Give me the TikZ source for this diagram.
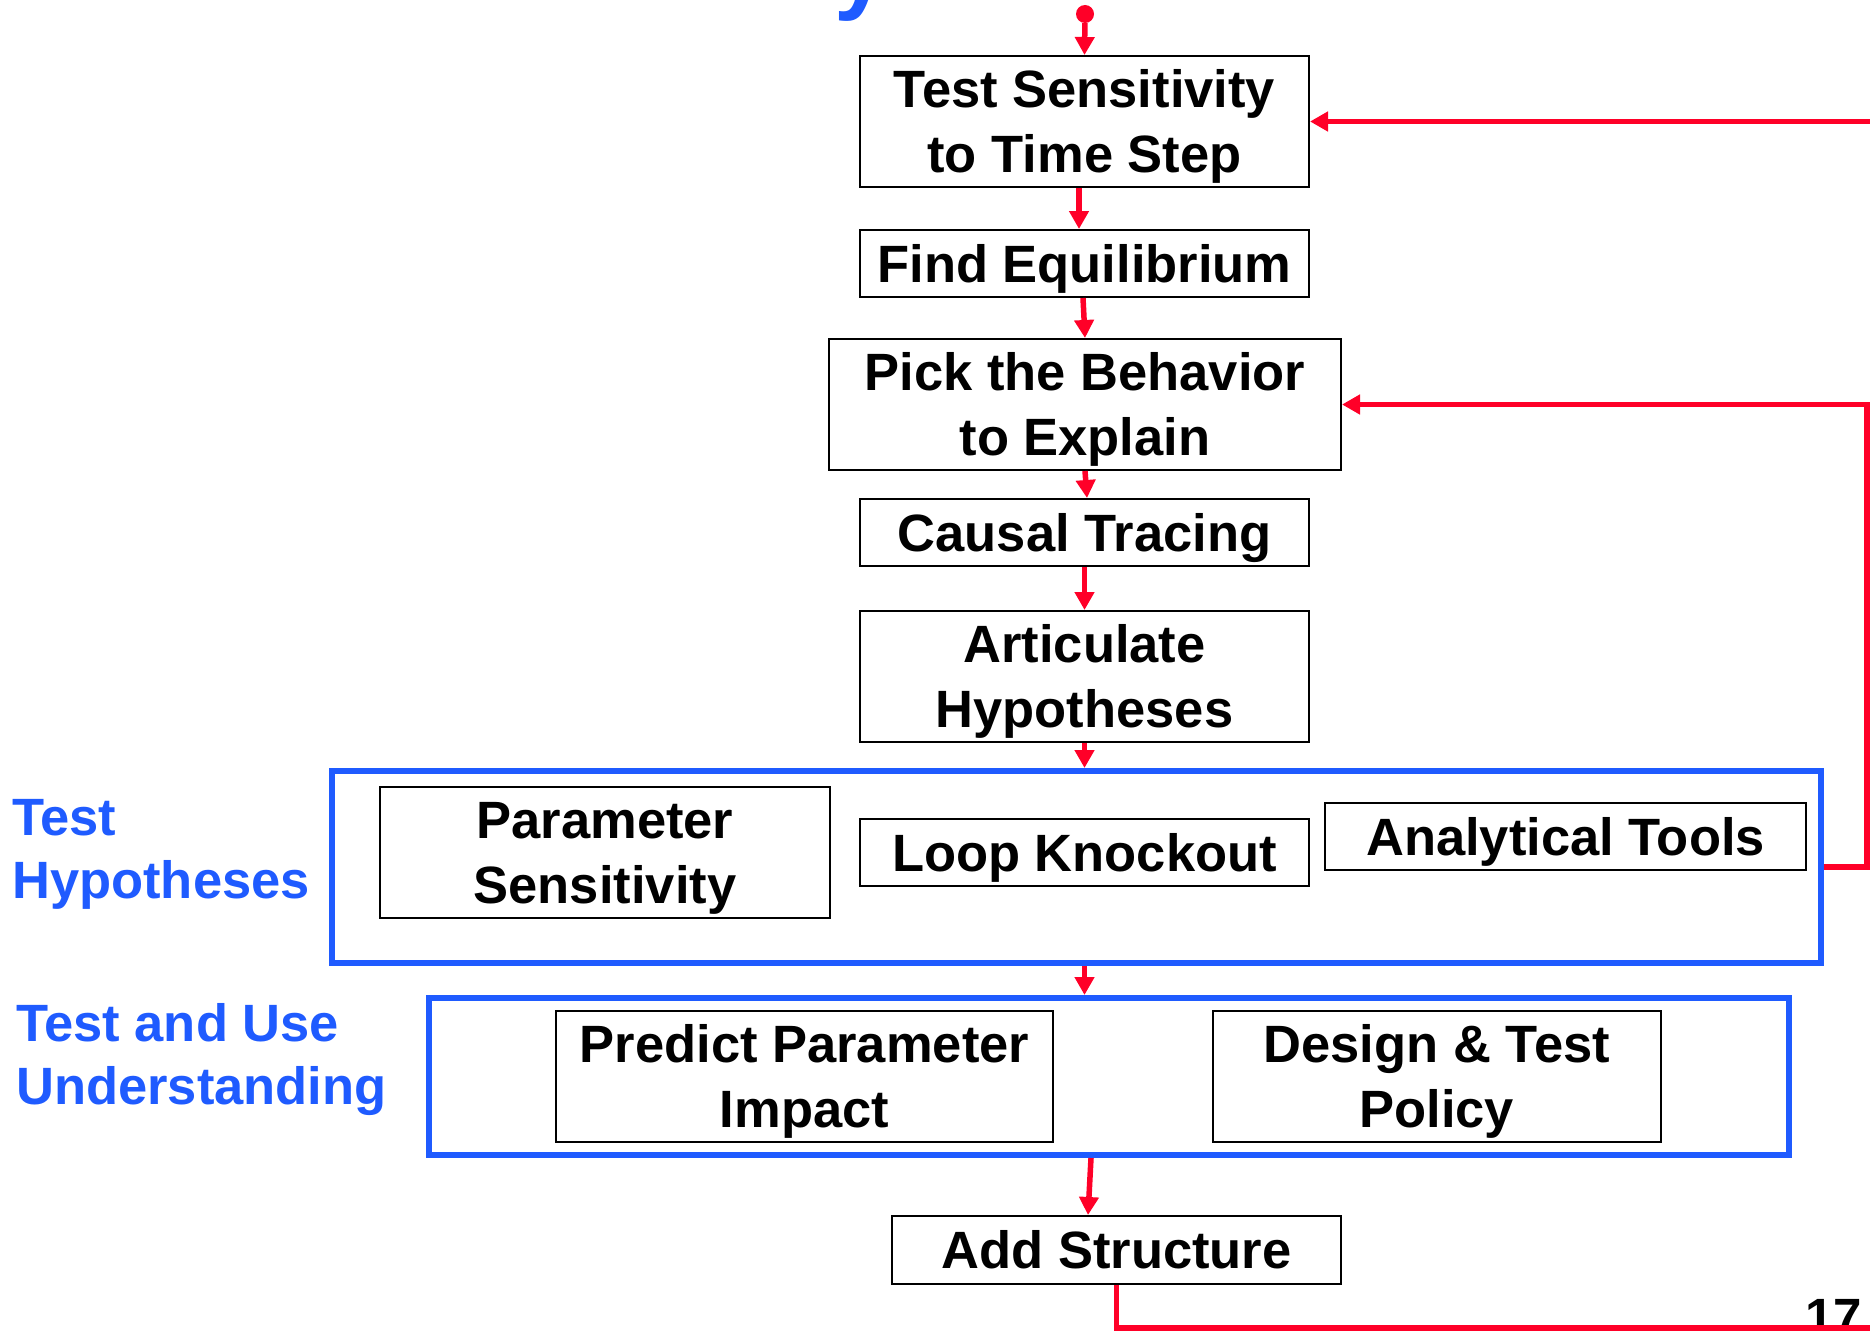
\documentclass[tikz,border=0pt]{standalone}
\usepackage{fontspec}
\setmainfont{Liberation Sans}
\usetikzlibrary{arrows.meta}
\definecolor{hblue}{RGB}{31,91,255}
\definecolor{fred}{RGB}{255,0,40}
% strut that gives every text line the same height and depth
\newcommand\lnstrut{\rule[-0.22em]{0pt}{1.15em}}
\tikzset{
  stepbox/.style={draw=black, line width=2pt, inner sep=0pt, minimum height=67pt,
    align=center, font=\fontsize{52.5}{65}\selectfont\bfseries},
  tallbox/.style={stepbox, minimum height=131pt},
  groupbox/.style={draw=hblue, line width=6pt, inner sep=0pt},
  grouplabel/.style={anchor=west, inner sep=0pt, align=left, text=hblue,
    font=\fontsize{52.5}{63}\selectfont\bfseries},
  flow/.style={draw=fred, line width=5.5pt, -{Triangle[length=18pt,width=19pt]}},
  feedback/.style={draw=fred, line width=5.5pt, -{Triangle[length=18pt,width=19pt]}},
  plainred/.style={draw=fred, line width=5.5pt}
}
\begin{document}
\begin{tikzpicture}[x=1pt,y=-1pt]
\useasboundingbox (0,0) rectangle (1870,1330);
\fill[white] (0,0) rectangle (1870,1330);
\clip (0,0) rectangle (1870,1330);

% tail of the heading letter above the chart
\node[anchor=base west, inner sep=0pt, text=hblue,
      font=\fontsize{96}{96}\selectfont\bfseries] (head) at (834,2) {y};

% start marker
\node[circle, fill=fred, minimum size=18pt, inner sep=0pt] (start) at (1085,14) {};

% main column of steps
\node[tallbox, minimum width=449pt] (b1) at (1084.5,121.5) {\lnstrut Test Sensitivity\\\lnstrut to Time Step};
\node[stepbox, minimum width=449pt] (b2) at (1084.5,263.5) {\lnstrut Find Equilibrium};
\node[tallbox, minimum width=512pt] (b3) at (1085,404.5) {\lnstrut Pick the Behavior\\\lnstrut to Explain};
\node[stepbox, minimum width=449pt] (b4) at (1084.5,532.5) {\lnstrut Causal Tracing};
\node[tallbox, minimum width=449pt] (b5) at (1084.5,676.5) {\lnstrut Articulate\\\lnstrut Hypotheses};

% test hypotheses group
\node[groupbox, minimum width=1489pt, minimum height=192pt] (hb) at (1076.5,867) {};
\node[tallbox, minimum width=450pt] (ps) at (605,852.5) {\lnstrut Parameter\\\lnstrut Sensitivity};
\node[stepbox, minimum width=449pt] (lk) at (1084.5,852.5) {\lnstrut Loop Knockout};
\node[stepbox, minimum width=481pt] (atools) at (1565.5,836.5) {\lnstrut Analytical Tools};
\node[grouplabel] (lh) at (12,848.8) {\lnstrut Test\\\lnstrut Hypotheses};

% test and use understanding group
\node[groupbox, minimum width=1360pt, minimum height=157pt] (hc) at (1109,1076.5) {};
\node[tallbox, minimum width=497pt] (pp) at (804.5,1076.5) {\lnstrut Predict Parameter\\\lnstrut Impact};
\node[tallbox, minimum width=448.5pt] (dp) at (1436.75,1076.5) {\lnstrut Design \& Test\\\lnstrut Policy};
\node[grouplabel] (lu) at (16,1054.8) {\lnstrut Test and Use\\\lnstrut Understanding};

\node[stepbox, minimum width=449pt, minimum height=68pt] (as) at (1116.5,1250) {\lnstrut Add Structure};

% page number
\node[anchor=base east, inner sep=0pt, font=\fontsize{51}{51}\selectfont\bfseries] (pg) at (1862,1334) {17};

% flow down the column
\draw[flow] (start) -- (b1.north);
\draw[flow] ([xshift=-5.5pt]b1.south) -- ([xshift=-5.5pt]b2.north);
\draw[flow] ([xshift=-1.5pt]b2.south) -- (b3.north);
\draw[flow] (b3.south) -- ([xshift=2.5pt]b4.north);
\draw[flow] (b4.south) -- (b5.north);
\draw[flow] (b5.south) -- (b5.south |- hb.north);
\draw[flow] (b5.south |- hb.south) -- (b5.south |- hc.north);
\draw[flow] ([xshift=-18pt]hc.south) -- ([xshift=-28.5pt]as.north);

% feedback paths
\coordinate (rail) at (1867,0);
\coordinate (topin) at (1880,121.5);
\coordinate (botout) at (1880,1328);
\draw[feedback] (hb.east) -- (hb.east -| rail) |- (b3.east);
\draw[feedback] (topin) -- (b1.east);
\draw[plainred] (as.south) |- (botout);
\end{tikzpicture}
\end{document}
